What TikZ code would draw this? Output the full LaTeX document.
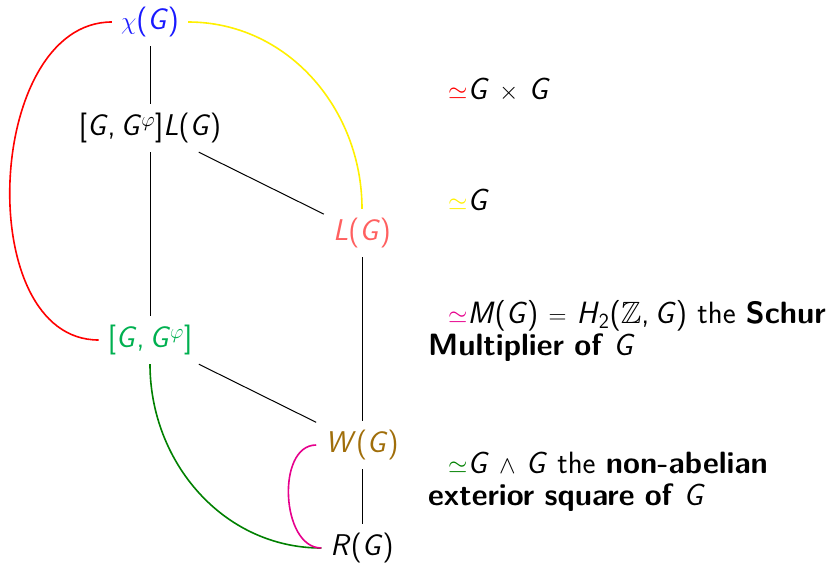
\documentclass[tikz,border=0pt]{standalone}
\usepackage{amsmath,amssymb}
\definecolor{chicol}{RGB}{26,26,255}
\definecolor{Lcol}{RGB}{255,96,96}
\definecolor{GGcol}{RGB}{0,176,80}
\definecolor{Wcol}{RGB}{160,110,10}
\definecolor{ycol}{RGB}{255,240,0}
\definecolor{mcol}{RGB}{230,0,140}
\definecolor{gcol}{RGB}{0,128,0}
\newcommand{\gG}{\textit{G}}
\newcommand{\cm}{,\hspace{0.17em}}
\hyphenpenalty=10000
\exhyphenpenalty=10000
\begin{document}
\begin{tikzpicture}[x=1pt,y=-1pt,
  grp/.style={font=\fontsize{30}{32}\selectfont\sffamily, inner sep=9pt},
  desc/.style={font=\fontsize{30.8}{32.5}\selectfont\sffamily, inner sep=0pt, anchor=base west, text width=440pt, align=left},
  link/.style={line width=1pt},
  arc/.style={line width=1.6pt}]
\useasboundingbox (0,0) rectangle (830,565);
\node[grp, text=chicol] (chi) at (150,22) {$\chi$(\gG)};
\node[grp] (GL) at (150,128) {[\gG\cm\gG$^{\varphi}$]\textit{L}(\gG)};
\node[grp, text=Lcol] (L) at (362,233) {\textit{L}(\gG)};
\node[grp, text=GGcol] (GG) at (150,340) {[\gG\cm\gG$^{\varphi}$]};
\node[grp, text=Wcol] (W) at (362,445) {\textit{W}(\gG)};
\node[grp] (R) at (362,548) {\textit{R}(\gG)};
\draw[link] (chi) -- (GL);
\draw[link] (GL) -- (GG);
\draw[link] (GL) -- (L);
\draw[link] (L) -- (W);
\draw[link] (GG) -- (W);
\draw[link] (W) -- (R);
\draw[arc, red] (chi.west) to[out=180, in=180, looseness=1.02] (GG.west);
\draw[arc, ycol] (chi.east) to[out=0, in=90] (L.north);
\draw[arc, gcol] (GG.south) to[out=-90, in=180] (R.west);
\draw[arc, mcol] (W.west) to[out=180, in=180] (R.west);
\node[desc] (d1) at (428,99) {\hspace*{20pt}{\color{red}$\simeq$}\gG{} $\times$ \gG};
\node[desc] (d2) at (428,210) {\hspace*{20pt}{\color{ycol}$\simeq$}\gG};
\node[desc] (d3) at (428,323) {\hspace*{20pt}{\color{mcol}$\simeq$}\textit{M}(\gG) $=$ \textit{H}$_{\textsf{2}}$($\mathbb{Z}$\cm\gG) the \textbf{Schur}\\\textbf{Multiplier of} \gG};
\node[desc] (d4) at (428,473) {\hspace*{20pt}{\color{gcol}$\simeq$}\gG{} $\wedge$ \gG{} the \textbf{non-abelian}\\\textbf{exterior square of} \gG};
\end{tikzpicture}
\end{document}
